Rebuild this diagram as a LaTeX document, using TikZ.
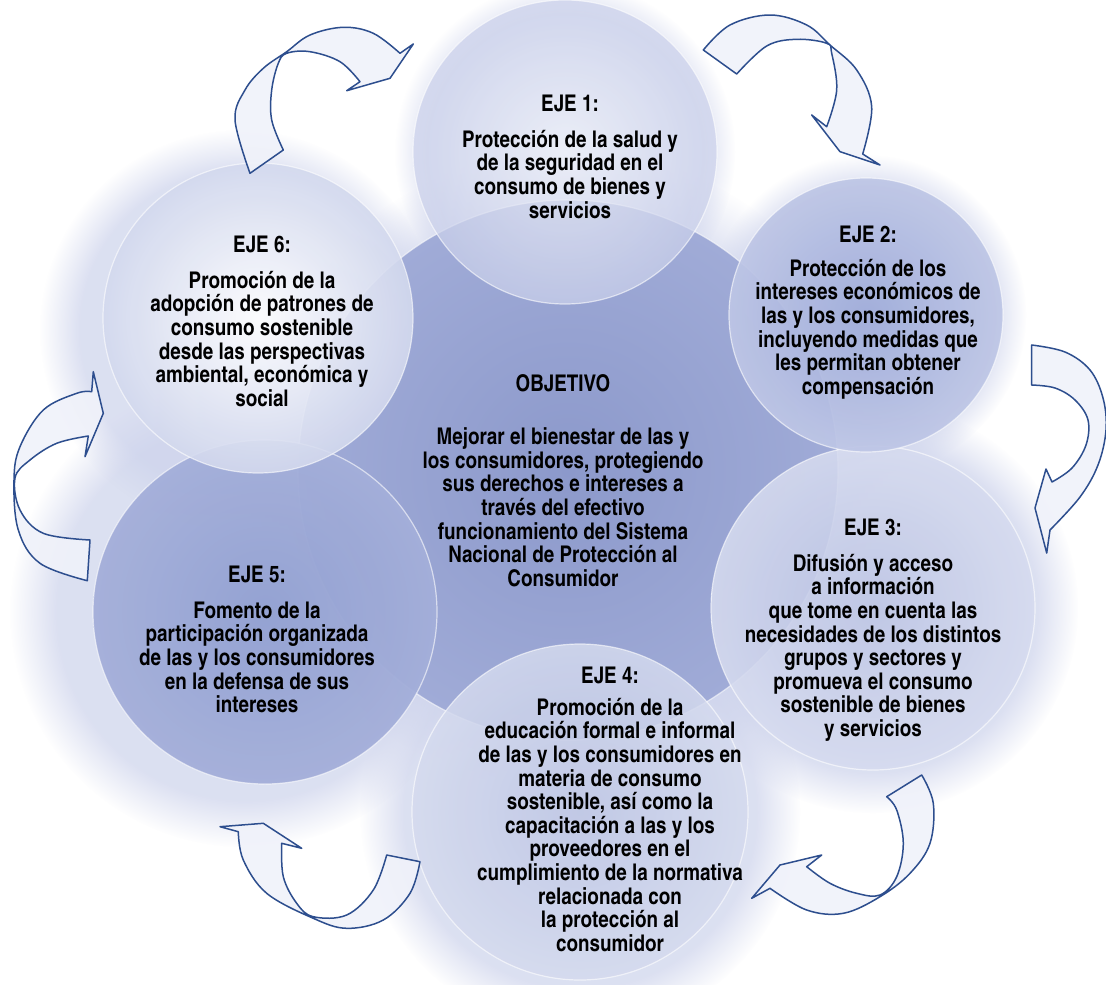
\documentclass[tikz,border=0pt]{standalone}
\usepackage{fontspec}
\newfontfamily\axfont{texgyreheroscn-bold.otf}
\usetikzlibrary{fadings}

\definecolor{arrowline}{HTML}{2D4E8E}
\definecolor{arrowfill}{HTML}{F0F2FA}
\definecolor{haze}{HTML}{CDD3EC}
\definecolor{centreIn}{HTML}{8C99CB}
\definecolor{centreOut}{HTML}{A0ABD7}
\definecolor{oneIn}{HTML}{F2F4FA}
\definecolor{oneOut}{HTML}{CBD1EB}
\definecolor{twoIn}{HTML}{9EABD9}
\definecolor{twoOut}{HTML}{BEC6E6}
\definecolor{threeIn}{HTML}{BCC4E4}
\definecolor{threeOut}{HTML}{D6DBEF}
\definecolor{fourIn}{HTML}{BDC5E4}
\definecolor{fourOut}{HTML}{D4DAEE}
\definecolor{fiveIn}{HTML}{92A0D1}
\definecolor{fiveOut}{HTML}{A4AFDA}
\definecolor{sixIn}{HTML}{FFFFFF}
\definecolor{sixOut}{HTML}{D3D9EE}

\tikzset{
  halo/.style={fill=haze, fill opacity=0.7, path fading=circle with fuzzy edge 20 percent},
  rim/.style={draw=white, line width=1.2pt, draw opacity=0.6},
  blockarrow/.style={draw=arrowline, line width=1.5pt, fill=arrowfill, fill opacity=0.9, line join=round},
  axistext/.style={align=center, inner sep=0pt, text=black,
    font=\axfont\fontsize{23}{23.6}\selectfont},
}

\begin{document}
\begin{tikzpicture}[x=1pt,y=-1pt]
\useasboundingbox (0,0) rectangle (1106,985);
\fill[white] (0,0) rectangle (1106,985);

% centres of the seven discs
\coordinate (c0) at (568,470);
\coordinate (c1) at (565,152);
\coordinate (c2) at (866,315);
\coordinate (c3) at (873,608);
\coordinate (c4) at (580,812);
\coordinate (c5) at (265,612);
\coordinate (c6) at (258,318);

% soft haze behind the discs, heavier on the left and at the bottom
\fill[halo] (c0) circle[radius=320];
\fill[halo] (c1) circle[radius=170];
\fill[halo] (c2) circle[radius=160];
\fill[halo] (c3) circle[radius=205];
\fill[halo] (c4) circle[radius=220];
\fill[halo] (245,612) circle[radius=235];
\fill[halo] (240,330) circle[radius=200];

% discs
\shade[inner color=centreIn, outer color=centreOut] (c0) circle[radius=270];
\draw[rim] (c0) circle[radius=270];
\shade[inner color=fiveIn, outer color=fiveOut, opacity=0.96] (c5) circle[radius=172];
\draw[rim] (c5) circle[radius=172];
\shade[inner color=sixIn, outer color=sixOut, opacity=0.9] (c6) circle[radius=155];
\draw[rim] (c6) circle[radius=155];
\shade[inner color=fourIn, outer color=fourOut, opacity=0.85] (c4) circle[radius=168];
\draw[rim] (c4) circle[radius=168];
\shade[inner color=threeIn, outer color=threeOut, opacity=0.88] (c3) circle[radius=162];
\draw[rim] (c3) circle[radius=162];
\shade[inner color=twoIn, outer color=twoOut, opacity=0.93] (c2) circle[radius=137];
\draw[rim] (c2) circle[radius=137];
\shade[inner color=oneIn, outer color=oneOut, opacity=0.72] (c1) circle[radius=152];
\draw[rim] (c1) circle[radius=152];

% curved block arrows running clockwise between the discs
\filldraw[blockarrow] (250,173.3)
  -- plot[smooth, tension=0.6] coordinates {(250,173.3) (235,120) (245,90) (263.3,68.3) (286.7,51.7) (310,35) (343.3,27.3) (373.3,33.3) (400,53.3)}
  -- (413.3,44) -- (390,78.3) -- (346.7,90.7)
  -- plot[smooth, tension=0.6] coordinates {(360,81.7) (340,61.7) (310,51.7) (286.7,53.3) (278.3,63.3) (271.7,90) (271.7,120) (283.3,150)}
  -- cycle;

\filldraw[blockarrow] (703.3,50)
  -- plot[smooth, tension=0.6] coordinates {(703.3,50) (730,25) (770,15) (806.7,25) (830,45) (856.7,70) (871.7,106.7) (862.7,154)}
  -- (880,165) -- (840,151.7) -- (811.7,115)
  -- plot[smooth, tension=0.6] coordinates {(826.7,126.7) (836.7,90) (831.7,53.3) (826.7,43.3) (796.7,39.3) (766.7,46) (736.7,74)}
  -- cycle;

\filldraw[blockarrow] (1031.7,345)
  -- plot[smooth, tension=0.6] coordinates {(1031.7,345) (1065,352) (1090,370) (1103,398) (1106,430) (1098,465) (1080,497) (1050,530)}
  -- (1046.7,553) -- (1035,508) -- (1046,469)
  -- plot[smooth, tension=0.6] coordinates {(1052,482) (1072,468) (1086,445) (1088,420) (1075,400) (1055,388) (1031.7,385)}
  -- cycle;

\filldraw[blockarrow] (921.7,775)
  -- plot[smooth, tension=0.6] coordinates {(921.7,775) (933.3,803.3) (930,843.3) (910,873.3) (880,896.7) (843.3,913.3) (806.7,910) (770,888.3)}
  -- (751.7,898.3) -- (780,865) -- (821.7,855)
  -- plot[smooth, tension=0.6] coordinates {(806.7,866.7) (830,883.3) (856.7,893.3) (880,895) (896.7,876.7) (903.3,843.3) (896.7,810) (886.7,796.7)}
  -- cycle;

\filldraw[blockarrow] (420,861.7)
  -- plot[smooth, tension=0.6] coordinates {(420,861.7) (410,893.3) (383.3,920) (346.7,928.3) (313.3,918.3) (266.7,893.3) (243.3,860) (238.3,831.7)}
  -- (220,826.7) -- (263.3,823.3) -- (301.7,848.3)
  -- plot[smooth, tension=0.6] coordinates {(281.7,843.3) (283.3,876.7) (296.7,903.3) (313.3,916.7) (346.7,915) (373.3,890) (386.7,855)}
  -- cycle;

\filldraw[blockarrow] (87.3,580.7)
  -- plot[smooth, tension=0.6] coordinates {(87.3,580.7) (40,563.3) (18.3,530) (14,480) (20,446.7) (43.3,410) (76.7,393.3) (91.7,391.7)}
  -- (93.3,371.7) -- (103.3,413.3) -- (85,456.7)
  -- plot[smooth, tension=0.6] coordinates {(88.3,436) (56.7,443.3) (30,460) (15,478) (20,510) (43.3,533.3) (90,540)}
  -- cycle;

% texts
\node[axistext, anchor=north] (t0) at (563,374) {OBJETIVO\\[30pt]
  Mejorar el bienestar de las y\\los consumidores, protegiendo\\sus derechos e intereses a\\través del efectivo\\funcionamiento del Sistema\\Nacional de Protección al\\Consumidor};
\node[axistext, anchor=north] (t1) at (570,95) {EJE 1:\\[12pt]
  Protección de la salud y\\de la seguridad en el\\consumo de bienes y\\servicios};
\node[axistext, anchor=north] (t2) at (868,226) {EJE 2:\\[10pt]
  Protección de los\\intereses económicos de\\las y los consumidores,\\incluyendo medidas que\\les permitan obtener\\compensación};
\node[axistext, anchor=north] (t3) at (873,519) {EJE 3:\\[12pt]
  Difusión y acceso\\a información\\que tome en cuenta las\\necesidades de los distintos\\grupos y sectores y\\promueva el consumo\\sostenible de bienes\\y servicios};
\node[axistext, anchor=north] (t4) at (610,667) {EJE 4:\\[8pt]
  Promoción de la\\educación formal e informal\\de las y los consumidores en\\materia de consumo\\sostenible, así como la\\capacitación a las y los\\proveedores en el\\cumplimiento de la normativa\\relacionada con\\la protección al\\consumidor};
\node[axistext, anchor=north] (t5) at (257,566) {EJE 5:\\[12pt]
  Fomento de la\\participación organizada\\de las y los consumidores\\en la defensa de sus\\intereses};
\node[axistext, anchor=north] (t6) at (262,236) {EJE 6:\\[12pt]
  Promoción de la\\adopción de patrones de\\consumo sostenible\\desde las perspectivas\\ambiental, económica y\\social};
\end{tikzpicture}
\end{document}
